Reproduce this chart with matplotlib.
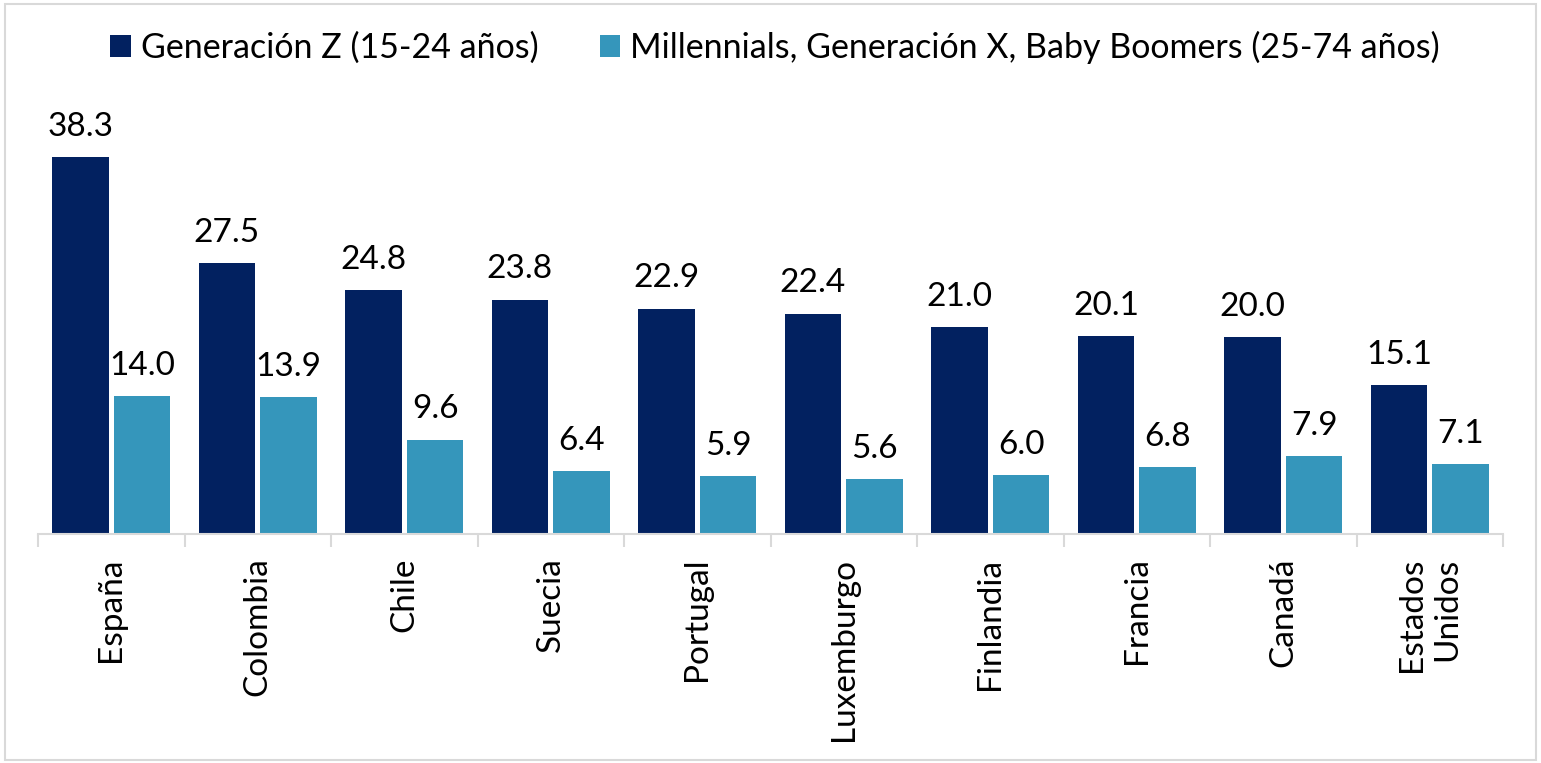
import numpy as np
import matplotlib.pyplot as plt
from matplotlib.patches import Rectangle

plt.rcParams['font.family'] = ['Lato', 'DejaVu Sans']

paises = ['España', 'Colombia', 'Chile', 'Suecia', 'Portugal', 'Luxemburgo',
          'Finlandia', 'Francia', 'Canadá', 'Estados\nUnidos']
gen_z = [38.3, 27.5, 24.8, 23.8, 22.9, 22.4, 21.0, 20.1, 20.0, 15.1]
resto = [14.0, 13.9, 9.6, 6.4, 5.9, 5.6, 6.0, 6.8, 7.9, 7.1]
series = ['Generación Z (15-24 años)',
          'Millennials, Generación X, Baby Boomers (25-74 años)']

c_dark = '#022160'
c_light = '#3596bb'
fs = 24

fig = plt.figure(figsize=(15.41, 7.63), dpi=100)
fig.patches.append(Rectangle((0.003, 0.004), 0.994, 0.991, transform=fig.transFigure,
                             fill=False, edgecolor='#d9d9d9', linewidth=1.5))
ax = fig.add_axes([38 / 1541, 1 - 534 / 763, 1465 / 1541, 439 / 763])

x = np.arange(len(paises))
w = 0.385
gap = 0.036
b1 = ax.bar(x - (w + gap) / 2, gen_z, w, color=c_dark, label=series[0])
b2 = ax.bar(x + (w + gap) / 2, resto, w, color=c_light, label=series[1])

for bars, vals in [(b1, gen_z), (b2, resto)]:
    for r, v in zip(bars, vals):
        ax.annotate(f'{v:.1f}', (r.get_x() + r.get_width() / 2, v),
                    xytext=(0, 11), textcoords='offset points',
                    ha='center', va='bottom', fontsize=fs)

ax.set_xlim(-0.5, len(paises) - 0.5)
ax.set_ylim(0, 44.6)
ax.set_yticks([])
for s in ['top', 'right', 'left']:
    ax.spines[s].set_visible(False)
ax.spines['bottom'].set_color('#d9d9d9')
ax.spines['bottom'].set_linewidth(1.5)

ax.set_xticks(x)
ax.set_xticklabels(paises, rotation=90, fontsize=fs, va='top', ha='center')
ax.tick_params(axis='x', which='major', length=0, pad=17)
ax.set_xticks(np.arange(len(paises) + 1) - 0.5, minor=True)
ax.tick_params(axis='x', which='minor', length=9, width=1.5, color='#d9d9d9')
for lab in ax.get_xticklabels():
    lab.set_multialignment('right')

fig.legend(loc='center', bbox_to_anchor=(0.503, 0.938), ncol=2, frameon=False,
           fontsize=24.5, handlelength=0.6, handleheight=0.6, handletextpad=0.3,
           columnspacing=1.8)

fig.savefig('out.png', dpi=100)
